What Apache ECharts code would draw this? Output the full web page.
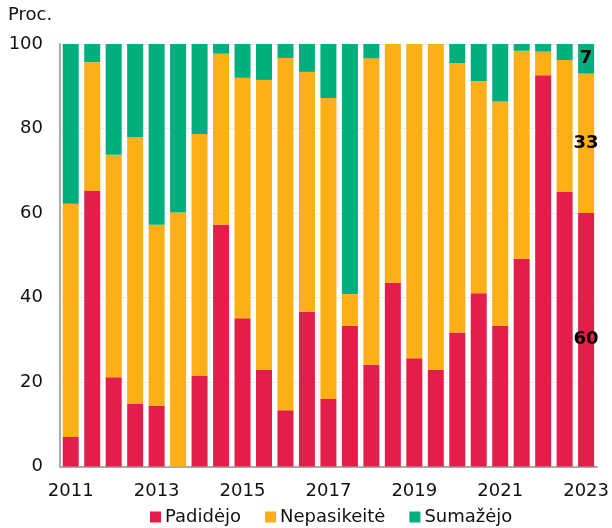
<!DOCTYPE html>
<html>
<head>
<meta charset="utf-8">
<script src="https://cdn.jsdelivr.net/npm/echarts@6/dist/echarts.min.js"></script>
<style>html,body{margin:0;padding:0;background:#fff;}#c{width:612px;height:528px;}</style>
</head>
<body>
<div id="c"></div>
<script>
const categories = ["2011-I","2011-II","2012-I","2012-II","2013-I","2013-II","2014-I","2014-II","2015-I","2015-II","2016-I","2016-II","2017-I","2017-II","2018-I","2018-II","2019-I","2019-II","2020-I","2020-II","2021-I","2021-II","2022-I","2022-II","2023-I"];
const padidejo    = [7, 65.2, 21.1, 14.8, 14.4, 0, 21.4, 57.2, 35.1, 22.9, 13.3, 36.6, 16.0, 33.3, 24.1, 43.5, 25.6, 22.9, 31.7, 41.0, 33.3, 49.2, 92.6, 65, 60];
const nepasikeite = [55.2, 30.5, 52.7, 63.1, 42.8, 60.1, 57.3, 40.5, 56.9, 68.6, 83.4, 56.8, 71.2, 7.5, 72.5, 56.5, 74.4, 77.1, 63.8, 50.2, 53.1, 49.2, 5.6, 31.2, 33];
const sumazejo    = [37.8, 4.3, 26.2, 22.1, 42.8, 39.9, 21.3, 2.3, 8.0, 8.5, 3.3, 6.6, 12.8, 59.2, 3.4, 0, 0, 0, 4.5, 8.8, 13.6, 1.6, 1.8, 3.8, 7];
const seriesNames = ["Padidėjo", "Nepasikeitė", "Sumažėjo"];
const yTicks = [0, 20, 40, 60, 80, 100];

const colors = ["#e31e4a", "#fcaf17", "#00af7d"];
const font = "DejaVu Sans";

function withLastLabel(arr) {
  return arr.map((v, i) => i === arr.length - 1 ? {
    value: v,
    label: { show: true, position: 'inside', formatter: String(Math.round(v)),
      fontFamily: font, fontWeight: 'bold', fontSize: 18, color: '#000' }
  } : v);
}

const chart = echarts.init(document.getElementById('c'), null, {renderer: 'canvas'});
chart.setOption({
  animation: false,
  color: colors,
  title: { text: 'Proc.', left: 8, top: 6, padding: 0, textStyle: { fontFamily: font, fontSize: 18, fontWeight: 'normal', color: '#111' } },
  grid: { left: 60, right: 14.5, top: 44, bottom: 61.5, containLabel: false },
  legend: {
    left: 150, top: 508, padding: 0, itemWidth: 11, itemHeight: 11, itemGap: 24,
    icon: 'rect',
    textStyle: { fontFamily: font, fontSize: 18, color: '#111', padding: [0, 0, 0, -1] },
    data: seriesNames
  },
  xAxis: {
    type: 'category', data: categories,
    axisTick: { show: false },
    axisLine: { lineStyle: { color: '#aaa', width: 2 } },
    axisLabel: { interval: 3, fontFamily: font, fontSize: 18, color: '#111', margin: 16,
      formatter: v => v.split('-')[0] }
  },
  yAxis: {
    type: 'value', min: yTicks[0], max: yTicks[yTicks.length - 1], interval: 20,
    axisLine: { show: true, lineStyle: { color: '#aaa', width: 2 } },
    axisTick: { show: false },
    splitLine: { lineStyle: { color: '#eeeeee' } },
    axisLabel: { fontFamily: font, fontSize: 18, color: '#111', margin: 17 }
  },
  series: [
    { name: seriesNames[0], type: 'bar', stack: 's', barWidth: 16, data: withLastLabel(padidejo) },
    { name: seriesNames[1], type: 'bar', stack: 's', barWidth: 16, data: withLastLabel(nepasikeite) },
    { name: seriesNames[2], type: 'bar', stack: 's', barWidth: 16, data: withLastLabel(sumazejo) }
  ]
});
</script>
</body>
</html>
